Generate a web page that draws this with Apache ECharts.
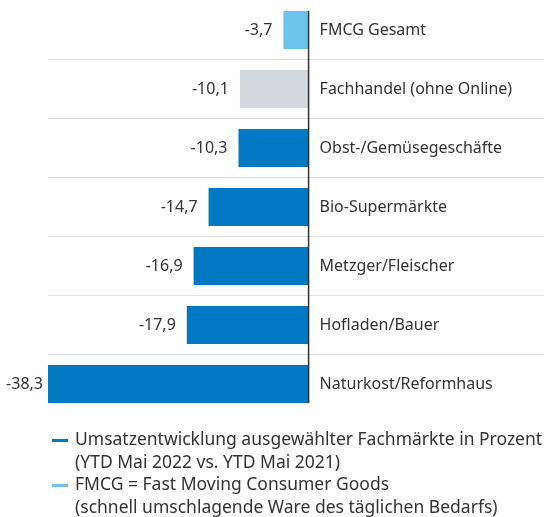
<!DOCTYPE html>
<html>
<head>
<meta charset="utf-8">
<script src="https://cdn.jsdelivr.net/npm/echarts@6/dist/echarts.min.js"></script>
<style>
  html, body { margin: 0; padding: 0; background: #ffffff; }
  #chart { width: 544px; height: 517px; }
</style>
</head>
<body>
<div id="chart"></div>
<script>
// Categories, top to bottom
const categories = [
  'FMCG Gesamt',
  'Fachhandel (ohne Online)',
  'Obst-/Gemüsegeschäfte',
  'Bio-Supermärkte',
  'Metzger/Fleischer',
  'Hofladen/Bauer',
  'Naturkost/Reformhaus'
];
// Umsatzentwicklung in Prozent (YTD Mai 2022 vs. YTD Mai 2021)
const fachmarktValues = [null, -10.1, -10.3, -14.7, -16.9, -17.9, -38.3];
const fmcgValues = [-3.7, null, null, null, null, null, null];
// Category drawn in neutral grey
const neutralCategory = 'Fachhandel (ohne Online)';
// Legend texts
const legendNames = [
  'Umsatzentwicklung ausgewählter Fachmärkte in Prozent',
  'FMCG = Fast Moving Consumer Goods'
];
const legendNotes = [
  '(YTD Mai 2022 vs. YTD Mai 2021)',
  '(schnell umschlagende Ware des täglichen Bedarfs)'
];

const DARK_BLUE = '#0079c2';
const LIGHT_BLUE = '#6cc4eb';
const GREY = '#d3d8df';
const TEXT = '#333333';
const FONT = '"Noto Sans", "Open Sans", sans-serif';

const CHART_W = 544;
const GRID_LEFT = 48;
const BAND = 59;          // px per category row
const BAR = 38;           // bar thickness px
const edge = (BAND - BAR) / 2 / BAND;

const X_MIN = Math.min(...fachmarktValues.filter(v => v !== null));
const X_MAX = 34.6;
// shift the category axis from the grid's left edge to the zero position
const zeroShift = (0 - X_MIN) / (X_MAX - X_MIN) * (CHART_W - GRID_LEFT);

const fmt = v => v.toFixed(1).replace('.', ',');

const chart = echarts.init(document.getElementById('chart'), null, { renderer: 'canvas' });

const valueLabel = {
  show: true,
  position: 'left',
  distance: 11,
  fontSize: 16,
  color: TEXT,
  fontFamily: FONT,
  formatter: p => fmt(p.value)
};

// bars reaching the grid edge keep their label closer so it stays on canvas
const toItem = (v, i) => {
  if (v === null) return null;
  const item = { value: v };
  if (categories[i] === neutralCategory) item.itemStyle = { color: GREY };
  if (v === X_MIN) item.label = { distance: 5 };
  return item;
};

chart.setOption({
  animation: false,
  textStyle: { fontFamily: FONT },
  grid: { left: GRID_LEFT, right: 0, top: 0.5, height: BAND * categories.length, containLabel: false },
  xAxis: [{
    type: 'value',
    min: X_MIN,
    max: X_MAX,
    axisLine: { onZero: false },
    show: false
  }],
  yAxis: [{
    type: 'category',
    data: categories,
    inverse: true,
    position: 'left',
    offset: -zeroShift,
    axisLine: { show: false, onZero: false },
    axisTick: { show: false },
    axisLabel: {
      inside: true,
      margin: 11,
      fontSize: 16,
      color: TEXT,
      fontFamily: FONT
    },
    splitLine: {
      show: true,
      showMinLine: false,
      showMaxLine: false,
      lineStyle: { color: '#dfe3e7', width: 1 }
    }
  }, {
    type: 'value',
    min: 0,
    max: categories.length,
    inverse: true,
    axisLine: { onZero: false },
    show: false
  }],
  legend: {
    orient: 'vertical',
    left: 52,
    top: 406,
    height: 200,
    padding: 0,
    itemGap: -24,
    itemWidth: 16,
    itemHeight: 3,
    icon: 'rect',
    data: legendNames,
    // blank first line keeps the marker level with the first text line
    formatter: name => ' \n' + name + '\n' + legendNotes[legendNames.indexOf(name)],
    textStyle: {
      fontSize: 17.5,
      lineHeight: 23,
      color: TEXT,
      fontFamily: FONT,
      padding: [0, 0, 0, 2]
    }
  },
  series: [{
    name: legendNames[0],
    type: 'bar',
    stack: 'all',
    barWidth: BAR,
    itemStyle: { color: DARK_BLUE },
    data: fachmarktValues.map(toItem),
    label: valueLabel
  }, {
    name: legendNames[1],
    type: 'bar',
    stack: 'all',
    barWidth: BAR,
    itemStyle: { color: LIGHT_BLUE },
    data: fmcgValues.map(toItem),
    label: valueLabel
  }, {
    // zero line spanning the bars
    name: 'zero',
    type: 'line',
    xAxisIndex: 0,
    yAxisIndex: 1,
    data: [[0, edge], [0, categories.length - edge]],
    symbol: 'none',
    silent: true,
    z: 5,
    lineStyle: { color: '#333333', width: 1.5 }
  }]
});
</script>
</body>
</html>
